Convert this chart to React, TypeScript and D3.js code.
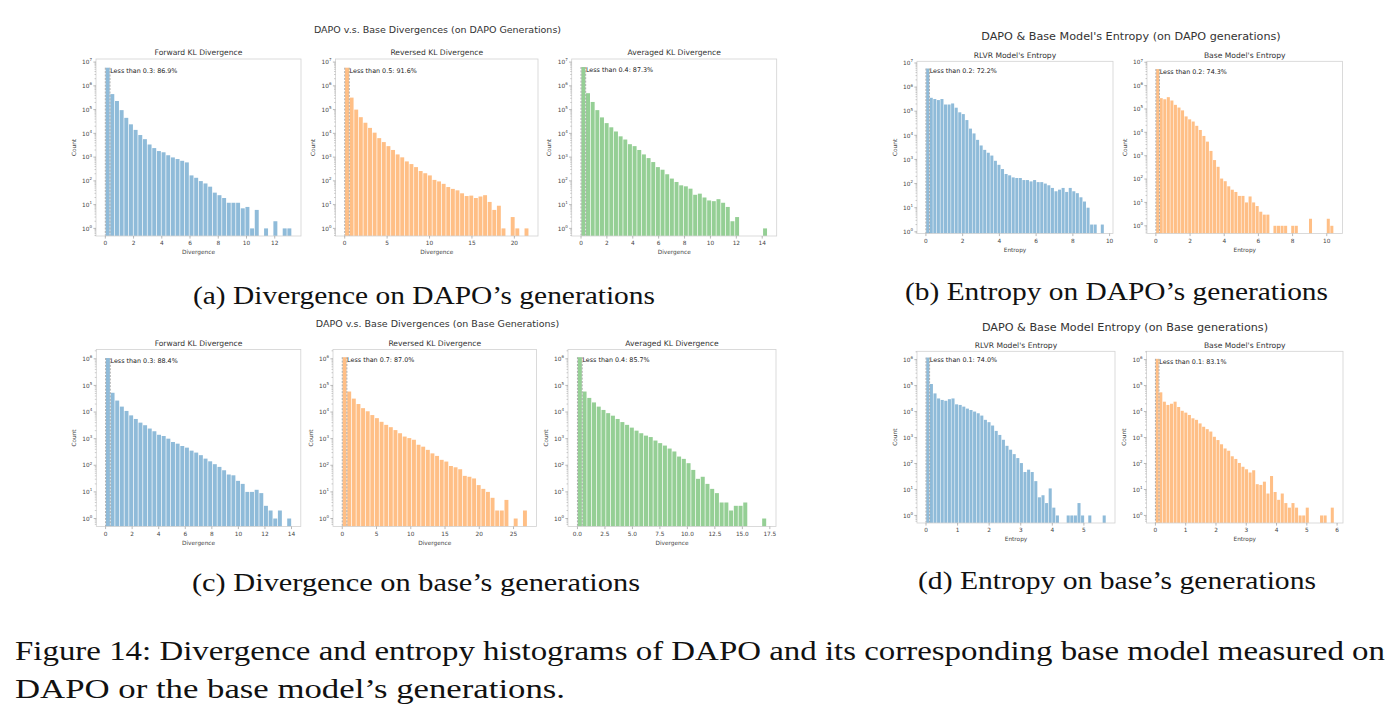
import React from "react";
import * as d3 from "d3";

// ---------- histogram bin counts (equal-width bins starting at 0) ----------
// DAPO generations
const fwdKlOnDapo = [5.8e6, 4.5e5, 2.3e5, 9.5e4, 4.5e4, 2.4e4, 1.4e4, 8.5e3, 5.7e3, 3.4e3, 2.4e3, 1.8e3, 1.6e3, 1.2e3, 970, 830, 700, 600, 170, 135, 98, 78, 57, 32, 25, 19, 12, 12, 12, 7, 8, 1, 6, 0, 1, 0, 2, 0, 1, 1];
const revKlOnDapo = [5.8e6, 3.2e5, 1.0e5, 4.8e4, 2.8e4, 1.7e4, 1.07e4, 6.3e3, 4.3e3, 2.9e3, 2.0e3, 1.3e3, 980, 660, 510, 380, 260, 210, 170, 110, 95, 75, 55, 46, 40, 30, 23, 24, 19, 22, 25, 13, 6, 9, 1, 0, 3, 1, 0, 1];
const avgKlOnDapo = [6.2e6, 4.9e5, 2.1e5, 9.5e4, 4.7e4, 2.7e4, 1.8e4, 1.2e4, 7.5e3, 5.5e3, 3.5e3, 2.9e3, 2.0e3, 1.3e3, 910, 620, 380, 295, 190, 125, 90, 65, 59, 47, 26, 29, 20, 15, 14, 17, 12, 8, 2, 3, 0, 0, 0, 0, 0, 1];
const rlvrEntropyOnDapo = [5.9e6, 3.6e5, 3.2e5, 2.9e5, 3.2e5, 1.9e5, 1.9e5, 2.1e5, 1.4e5, 9e4, 7.6e4, 4.3e4, 1.9e4, 1.2e4, 6.5e3, 3.8e3, 2.5e3, 1.9e3, 1.45e3, 880, 600, 400, 250, 220, 180, 170, 170, 140, 140, 123, 140, 115, 115, 100, 85, 66, 48, 56, 66, 45, 66, 48, 40, 27, 18, 10, 2, 2, 0, 2];
const baseEntropyOnDapo = [5.1e6, 2.9e5, 2.6e5, 3.2e5, 2.3e5, 1.5e5, 1.15e5, 8.7e4, 4.8e4, 3.6e4, 2.9e4, 1.9e4, 1.26e4, 7e3, 4e3, 1.6e3, 650, 335, 105, 81, 49, 35, 28, 19, 19, 10, 18, 10, 7, 4, 3, 3, 0, 1, 1, 1, 1, 0, 1, 1, 0, 0, 0, 2, 0, 0, 0, 0, 2, 1];
// base-model generations
const fwdKlOnBase = [1.07e6, 5.3e4, 2.7e4, 1.6e4, 1.1e4, 7.5e3, 5.5e3, 4e3, 3.2e3, 2.4e3, 1.9e3, 1.4e3, 1.26e3, 1e3, 750, 650, 530, 460, 355, 300, 240, 178, 141, 110, 87, 65, 45, 42, 26, 20, 10, 10, 12, 9, 3, 2, 1, 2, 0, 1];
const revKlOnBase = [1.15e6, 5.9e4, 3.2e4, 2.0e4, 1.4e4, 1.07e4, 7.7e3, 5.9e3, 4.3e3, 3.3e3, 2.7e3, 2.1e3, 1.6e3, 1.2e3, 1.05e3, 910, 590, 500, 380, 280, 225, 160, 138, 94, 84, 71, 40, 37, 32, 18, 13, 10, 6, 2, 2, 5, 0, 1, 0, 2];
const avgKlOnBase = [1.15e6, 5.9e4, 3.4e4, 2.3e4, 1.6e4, 1.2e4, 9.1e3, 7.3e3, 5.5e3, 4.2e3, 3.3e3, 2.6e3, 2.0e3, 1.6e3, 1.3e3, 1.15e3, 850, 680, 550, 425, 330, 213, 174, 120, 67, 31, 37, 20, 13, 9, 4, 4, 2, 3, 3, 4, 0, 0, 0, 1];
const rlvrEntropyOnBase = [1.2e6, 1.15e5, 5e4, 3.2e4, 2.8e4, 2.6e4, 3e4, 3.2e4, 1.9e4, 1.8e4, 1.55e4, 1.3e4, 1.15e4, 1e4, 8.6e3, 7e3, 4.8e3, 3.9e3, 2.9e3, 1.8e3, 1.26e3, 820, 480, 340, 230, 162, 104, 47, 58, 47, 21, 5, 6, 3, 11, 2, 1, 0, 0, 1, 1, 1, 3, 1, 0, 1, 0, 0, 0, 1];
const baseEntropyOnBase = [1.07e6, 5.5e4, 2.4e4, 1.8e4, 2e4, 2.4e4, 1.5e4, 1.07e4, 9.1e3, 7.4e3, 5.5e3, 4.8e3, 3.5e3, 2.6e3, 2.1e3, 1.7e3, 1.07e3, 800, 550, 380, 310, 190, 150, 105, 75, 60, 45, 55, 16, 15, 20, 7, 33, 8, 4, 7, 3, 2, 3, 2, 1, 1, 2, 0, 0, 0, 1, 1, 0, 2];

// upper edge of the last bin for each histogram (same order as the panels below)
const binUpperEdges = [13.2, 21.7, 14.4, 9.7, 10.4, 14.0, 27.0, 17.2, 5.7, 5.9];
// first-bin threshold and the share of tokens below it
const thresholds = [0.3, 0.5, 0.4, 0.2, 0.2, 0.3, 0.7, 0.4, 0.1, 0.1];
const sharesBelow = ["86.9%", "91.6%", "87.3%", "72.2%", "74.3%", "88.4%", "87.0%", "85.7%", "74.0%", "83.1%"];

// x tick values
const ticksEvenTo12 = [0, 2, 4, 6, 8, 10, 12];
const ticksEvenTo14 = [0, 2, 4, 6, 8, 10, 12, 14];
const ticksEvenTo10 = [0, 2, 4, 6, 8, 10];
const ticksFivesTo20 = [0, 5, 10, 15, 20];
const ticksFivesTo25 = [0, 5, 10, 15, 20, 25];
const ticksHalvesTo17 = [0, 2.5, 5, 7.5, 10, 12.5, 15, 17.5];
const ticksUnitTo5 = [0, 1, 2, 3, 4, 5];
const ticksUnitTo6 = [0, 1, 2, 3, 4, 5, 6];

const BLUE = "#8fbbd9";
const ORANGE = "#ffbf86";
const GREEN = "#95cf95";

type PanelSpec = {
  title: string;
  counts: number[];
  idx: number;
  color: string;
  xTicks: number[];
  tickFmt: (v: number) => string;
  xLabel: string;
  left: number;
  top: number;
  width: number;
  height: number;
  yLo: number;
  yHi: number;
  yMaxExp: number;
};

const intFmt = (v: number) => String(v);
const oneDec = d3.format(".1f");

const rowA = { top: 59, height: 177, yLo: -0.32, yHi: 7.13, yMaxExp: 7 };
const rowC = { top: 349.5, height: 177, yLo: -0.3, yHi: 6.35, yMaxExp: 6 };
const rowD = { top: 351.3, height: 171.7, yLo: -0.29, yHi: 6.32, yMaxExp: 6 };

const panels: PanelSpec[] = [
  { title: "Forward KL Divergence", counts: fwdKlOnDapo, idx: 0, color: BLUE, xTicks: ticksEvenTo12, tickFmt: intFmt, xLabel: "Divergence", left: 96, width: 205, ...rowA },
  { title: "Reversed KL Divergence", counts: revKlOnDapo, idx: 1, color: ORANGE, xTicks: ticksFivesTo20, tickFmt: intFmt, xLabel: "Divergence", left: 335.5, width: 202.5, ...rowA },
  { title: "Averaged KL Divergence", counts: avgKlOnDapo, idx: 2, color: GREEN, xTicks: ticksEvenTo14, tickFmt: intFmt, xLabel: "Divergence", left: 571.7, width: 205, ...rowA },
  { title: "RLVR Model's Entropy", counts: rlvrEntropyOnDapo, idx: 3, color: BLUE, xTicks: ticksEvenTo10, tickFmt: intFmt, xLabel: "Entropy", left: 917, width: 196, top: 61.3, height: 172.2, yLo: -0.07, yHi: 7.07, yMaxExp: 7 },
  { title: "Base Model's Entropy", counts: baseEntropyOnDapo, idx: 4, color: ORANGE, xTicks: ticksEvenTo10, tickFmt: intFmt, xLabel: "Entropy", left: 1147, width: 195.5, top: 61.3, height: 172.2, yLo: -0.33, yHi: 7.04, yMaxExp: 7 },
  { title: "Forward KL Divergence", counts: fwdKlOnBase, idx: 5, color: BLUE, xTicks: ticksEvenTo14, tickFmt: intFmt, xLabel: "Divergence", left: 96.3, width: 204.5, ...rowC },
  { title: "Reversed KL Divergence", counts: revKlOnBase, idx: 6, color: ORANGE, xTicks: ticksFivesTo25, tickFmt: intFmt, xLabel: "Divergence", left: 333, width: 203.5, ...rowC },
  { title: "Averaged KL Divergence", counts: avgKlOnBase, idx: 7, color: GREEN, xTicks: ticksHalvesTo17, tickFmt: oneDec, xLabel: "Divergence", left: 568, width: 208, ...rowC },
  { title: "RLVR Model's Entropy", counts: rlvrEntropyOnBase, idx: 8, color: BLUE, xTicks: ticksUnitTo5, tickFmt: intFmt, xLabel: "Entropy", left: 917, width: 198, ...rowD },
  { title: "Base Model's Entropy", counts: baseEntropyOnBase, idx: 9, color: ORANGE, xTicks: ticksUnitTo6, tickFmt: intFmt, xLabel: "Entropy", left: 1146.5, width: 196.5, ...rowD },
];

const SANS = "'DejaVu Sans', sans-serif";
const SERIF = "'Liberation Serif', 'DejaVu Serif', serif";
const RWIDTH = 0.85;

function Histogram({ p }: { p: PanelSpec }) {
  const xMax = binUpperEdges[p.idx];
  const bottom = p.top + p.height;
  const x = d3.scaleLinear().domain([-0.05 * xMax, 1.05 * xMax]).range([p.left, p.left + p.width]);
  const y = d3.scaleLog().domain([10 ** p.yLo, 10 ** p.yHi]).range([bottom, p.top]);
  const n = p.counts.length;
  const bw = xMax / n;
  const edges = d3.range(n + 1).map((i) => i * bw);

  const minor: number[] = [];
  for (let e = Math.floor(p.yLo); e <= Math.ceil(p.yHi); e++) {
    for (let m = 2; m <= 9; m++) {
      const v = m * 10 ** e;
      if (v > 10 ** p.yLo && v < 10 ** p.yHi) minor.push(v);
    }
  }
  const majors = d3.range(0, p.yMaxExp + 1);
  const firstTop = y(p.counts[0]);
  const cx = p.left + p.width / 2;

  return (
    <g>
      <rect x={p.left} y={p.top} width={p.width} height={p.height} fill="#fff" />
      {p.counts.map((c, i) =>
        c > 0 ? (
          <rect
            key={i}
            x={x(edges[i] + (bw * (1 - RWIDTH)) / 2)}
            width={x(bw * RWIDTH) - x(0)}
            y={y(c)}
            height={bottom - y(c)}
            fill={p.color}
          />
        ) : null
      )}
      {[edges[0], edges[1]].map((e, k) => (
        <line
          key={k}
          x1={x(e)}
          x2={x(e)}
          y1={firstTop}
          y2={bottom}
          stroke="#a3a3a3"
          strokeWidth={0.9}
          strokeDasharray="2,1.4"
        />
      ))}
      <text
        x={x(edges[1]) + 0.2}
        y={firstTop + 4.9}
        fontFamily={SANS}
        fontSize={6.4}
        fill="#222"
      >
        {`Less than ${thresholds[p.idx]}: ${sharesBelow[p.idx]}`}
      </text>
      <rect
        x={p.left}
        y={p.top}
        width={p.width}
        height={p.height}
        fill="none"
        stroke="#d2d2d2"
        strokeWidth={0.8}
      />
      {/* y axis: log ticks */}
      {minor.map((v, i) => (
        <line key={"m" + i} x1={p.left - 1.5} x2={p.left} y1={y(v)} y2={y(v)} stroke="#9a9a9a" strokeWidth={0.5} />
      ))}
      {majors.map((e) => (
        <g key={"M" + e}>
          <line x1={p.left - 2.6} x2={p.left} y1={y(10 ** e)} y2={y(10 ** e)} stroke="#8a8a8a" strokeWidth={0.6} />
          <text
            x={p.left - 4}
            y={y(10 ** e) + 2.2}
            textAnchor="end"
            fontFamily={SANS}
            fontSize={5.8}
            fill="#444"
          >
            10
            <tspan dy={-2.8} fontSize={4.0}>
              {e}
            </tspan>
          </text>
        </g>
      ))}
      {/* x axis */}
      {p.xTicks.map((t) => (
        <g key={"x" + t}>
          <line x1={x(t)} x2={x(t)} y1={bottom} y2={bottom + 2.6} stroke="#8a8a8a" strokeWidth={0.6} />
          <text x={x(t)} y={bottom + 9.2} textAnchor="middle" fontFamily={SANS} fontSize={5.8} fill="#444">
            {p.tickFmt(t)}
          </text>
        </g>
      ))}
      <text x={cx} y={bottom + 18.3} textAnchor="middle" fontFamily={SANS} fontSize={5.8} fill="#444">
        {p.xLabel}
      </text>
      <text
        transform={`translate(${p.left - 20.5},${p.top + p.height / 2}) rotate(-90)`}
        textAnchor="middle"
        fontFamily={SANS}
        fontSize={5.8}
        fill="#444"
      >
        Count
      </text>
      <text x={cx} y={p.top - 3.7} textAnchor="middle" fontFamily={SANS} fontSize={7.6} fill="#333">
        {p.title}
      </text>
    </g>
  );
}

const suptitles = [
  { text: "DAPO v.s. Base Divergences (on DAPO Generations)", x: 437.5, y: 33.3, size: 9.5 },
  { text: "DAPO & Base Model's Entropy (on DAPO generations)", x: 1131, y: 40.4, size: 11.2 },
  { text: "DAPO v.s. Base Divergences (on Base Generations)", x: 437.5, y: 327.3, size: 9.5 },
  { text: "DAPO & Base Model Entropy (on Base generations)", x: 1125, y: 331.4, size: 11.2 },
];

const subcaptions = [
  { text: "(a) Divergence on DAPO\u2019s generations", x: 193, y: 304, len: 462 },
  { text: "(b) Entropy on DAPO\u2019s generations", x: 905, y: 300, len: 423 },
  { text: "(c) Divergence on base\u2019s generations", x: 192, y: 591, len: 448 },
  { text: "(d) Entropy on base\u2019s generations", x: 918, y: 589, len: 398 },
];

export default function App() {
  return (
    <svg
      width={1392}
      height={727}
      viewBox="0 0 1392 727"
      style={{ position: "absolute", left: 0, top: 0, display: "block", background: "#fff" }}
    >
      <rect width={1392} height={727} fill="#fff" />
      {suptitles.map((s, i) => (
        <text key={i} x={s.x} y={s.y} textAnchor="middle" fontFamily={SANS} fontSize={s.size} fill="#333">
          {s.text}
        </text>
      ))}
      {panels.map((p, i) => (
        <Histogram key={i} p={p} />
      ))}
      {subcaptions.map((c, i) => (
        <text
          key={i}
          x={c.x}
          y={c.y}
          fontFamily={SERIF}
          fontSize={25}
          fill="#111"
          textLength={c.len}
          lengthAdjust="spacingAndGlyphs"
        >
          {c.text}
        </text>
      ))}
      <text x={15} y={660} fontFamily={SERIF} fontSize={28} fill="#111" textLength={1370} lengthAdjust="spacingAndGlyphs">
        Figure 14: Divergence and entropy histograms of DAPO and its corresponding base model measured on
      </text>
      <text x={15} y={698} fontFamily={SERIF} fontSize={28} fill="#111" textLength={550} lengthAdjust="spacingAndGlyphs">
        DAPO or the base model{"\u2019"}s generations.
      </text>
    </svg>
  );
}
